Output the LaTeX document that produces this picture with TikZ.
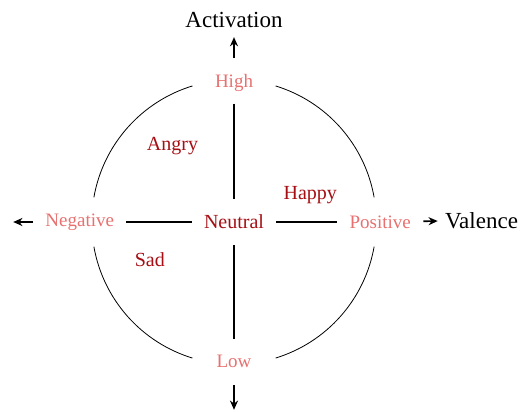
\documentclass[tikz,border=0pt]{standalone}
\usepackage{fontspec}
\setmainfont{Liberation Serif}
\usetikzlibrary{arrows.meta}
\definecolor{polered}{RGB}{232,112,112}
\definecolor{emored}{RGB}{165,15,20}
\tikzset{
  pole/.style={text=polered, font=\fontsize{9.5}{11}\selectfont, inner sep=3pt},
  emo/.style={text=emored, font=\fontsize{10}{12}\selectfont, inner sep=3pt},
  axisname/.style={font=\fontsize{11.5}{13}\selectfont, inner sep=3pt},
  axis/.style={thick, shorten <=3pt, shorten >=3pt},
  flow/.style={-{Stealth[length=4.6pt, width=4pt]}, thick, shorten <=3pt},
}
\begin{document}
\begin{tikzpicture}
    \useasboundingbox (-117pt,-95pt) rectangle (144pt,111pt);
    \foreach \s/\e in {10/73,107/170,190/253,287/350}
      \draw[thin] (\s:2.5) arc[start angle=\s, end angle=\e, radius=2.5];
    \node[emo, minimum height=17pt] (neutral) at (0.00,0.00) {Neutral};
    \node[pole] (high) at (0.00,2.45) {High};
    \node[pole] (low) at (0.00,-2.45) {Low};
    \node[pole] (negative) at (-2.71,0.00) {Negative};
    \node[pole] (positive) at (2.57,0.00) {Positive};
    \node[axisname] (activation) at (0.00,3.55) {Activation};
    \node[axisname] (valence) at (4.35,0.03) {Valence};
    \node[emo] (angry) at (-1.08,1.33) {Angry};
    \node[emo] (happy) at (1.34,0.47) {Happy};
    \node[emo] (sad) at (-1.48,-0.66) {Sad};
    \coordinate (lowend) at (0.00,-3.30);
    \coordinate (negend) at (-3.88,0.00);
    \draw[axis] (high) -- (neutral);
    \draw[axis, shorten >=5pt] (neutral) -- (low);
    \draw[axis] (negative) -- (neutral);
    \draw[axis] (neutral) -- (positive);
    \draw[flow, shorten <=4.7pt, shorten >=1.5pt] (high) -- (activation);
    \draw[flow, shorten <=5.5pt] (low) -- (lowend);
    \draw[flow] (negative) -- (negend);
    \draw[flow, shorten >=0.5pt] (positive) -- (valence);
  \end{tikzpicture}
\end{document}
